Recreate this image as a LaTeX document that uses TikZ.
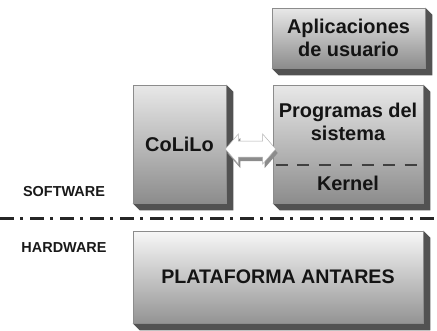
\documentclass[tikz,border=0pt]{standalone}
\usepackage{fontspec}
\setmainfont{Liberation Sans}
\usetikzlibrary{backgrounds,calc}

\newcommand\depthd{7}
% dark extruded right and bottom sides of a box node
\newcommand\extrudebox[1]{%
  \fill[sidefill] (#1.north east) -- ([shift={(\depthd,\depthd)}]#1.north east)
    -- ([shift={(\depthd,\depthd)}]#1.south east)
    -- ([shift={(\depthd,\depthd)}]#1.south west)
    -- (#1.south west) -- (#1.south east) -- cycle;}
% double block arrow from coordinate #1 to coordinate #2 (horizontal)
\newcommand\linkpath[2]{%
  (#1) -- ++(13,-15) -- ++(0,7) -- ($(#2)+(-13,-8)$) -- ++(0,-7) -- (#2)
  -- ++(-13,15) -- ++(0,-7) -- ($(#1)+(13,8)$) -- ++(0,7) -- cycle}

\tikzset{
  face/.style={draw=black!45, line width=0.6bp, top color=black!9, bottom color=black!45,
    inner sep=0pt, align=center, text=black!92,
    font=\fontsize{20}{23}\selectfont\bfseries},
  sidefill/.style={fill=black!68},
  sidelabel/.style={font=\fontsize{14.5}{16}\selectfont\bfseries, text=black!90},
  partline/.style={draw=black!75, line width=2bp, dash pattern=on 12bp off 9.5bp},
  divider/.style={draw=black!85, line width=3bp, dash pattern=on 14bp off 6bp on 2.5bp off 7.5bp},
  linkface/.style={fill=white, draw=black!30, line width=0.5bp},
  linkshade/.style={fill=black!45}
}

\begin{document}
\begin{tikzpicture}[x=1bp,y=-1bp]
\useasboundingbox (0,0) rectangle (437,330);

% software boxes
\node[face, minimum width=153bp, minimum height=60bp] (apps) at (348.5,38) {Aplicaciones\\de usuario};
\node[face, minimum width=150bp, minimum height=118bp] (prog) at (348,144) {};
\node[face, minimum width=93bp, minimum height=118bp] (colilo) at (179.5,144) {CoLiLo};

% hardware box
\node[face, top color=black!3, bottom color=black!42, minimum width=290bp, minimum height=92bp,
  font=\fontsize{19.7}{22}\selectfont\bfseries] (plat) at (278,277) {PLATAFORMA ANTARES};

\begin{scope}[on background layer]
  \extrudebox{apps}
  \extrudebox{prog}
  \extrudebox{colilo}
  \extrudebox{plat}
\end{scope}

% contents of the system box
\node[font=\fontsize{20}{23}\selectfont\bfseries, align=center, text=black!92] (progtext) at (348,122) {Programas del\\sistema};
\node[font=\fontsize{20}{23}\selectfont\bfseries, text=black!92] (kernel) at (348,183) {Kernel};
\coordinate (splitl) at ($(prog.west)+(3,21)$);
\coordinate (splitr) at ($(prog.east)+(-3,21)$);
\draw[partline] (splitl) -- (splitr);

% two-way link between CoLiLo and the system
\coordinate (linkl) at ($(colilo.east)+(-1,5)$);
\coordinate (linkr) at ($(prog.west)+(3,5)$);
\coordinate (shadel) at ($(linkl)+(2,4)$);
\coordinate (shader) at ($(linkr)+(2,4)$);
\fill[linkshade] \linkpath{shadel}{shader};
\filldraw[linkface] \linkpath{linkl}{linkr};

% software / hardware boundary
\coordinate (divl) at (0,218);
\coordinate (divr) at (437,218);
\draw[divider] (divl) -- (divr);

\node[sidelabel] (sw) at (64,192) {SOFTWARE};
\node[sidelabel] (hw) at (64,248) {HARDWARE};
\end{tikzpicture}
\end{document}
